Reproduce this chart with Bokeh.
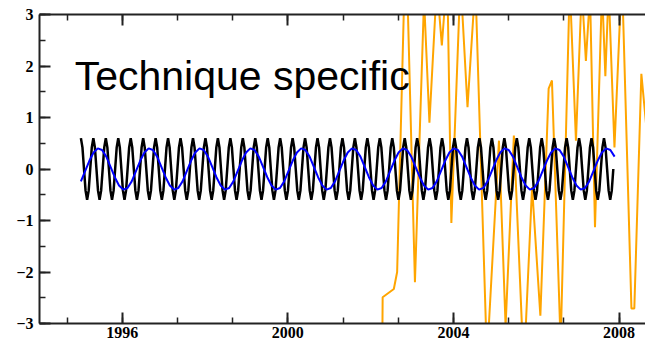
from bokeh.plotting import figure
from bokeh.models import Range1d, LinearAxis, SingleIntervalTicker, Label, CustomJSTickFormatter
from bokeh.embed import file_html
from bokeh.resources import INLINE

# ---------------- data ----------------
# black series: fast oscillation on a regular time grid (years)
black_start = 1995.0
black_step = 0.03761
black_y = [
    0.6, 0.42, 0.0, -0.42, -0.6, -0.42, 0.0, 0.42,
    0.6, 0.42, 0.0, -0.42, -0.6, -0.42, 0.0, 0.42,
    0.6, 0.42, 0.0, -0.42, -0.6, -0.42, 0.0, 0.42,
    0.6, 0.42, 0.0, -0.42, -0.6, -0.42, 0.0, 0.42,
    0.6, 0.42, 0.0, -0.42, -0.6, -0.42, 0.0, 0.42,
    0.6, 0.42, 0.0, -0.42, -0.6, -0.42, 0.0, 0.42,
    0.6, 0.42, 0.0, -0.42, -0.6, -0.42, 0.0, 0.42,
    0.6, 0.42, 0.0, -0.42, -0.6, -0.42, 0.0, 0.42,
    0.6, 0.42, 0.0, -0.42, -0.6, -0.42, 0.0, 0.42,
    0.6, 0.42, 0.0, -0.42, -0.6, -0.42, 0.0, 0.42,
    0.6, 0.42, 0.0, -0.42, -0.6, -0.42, 0.0, 0.42,
    0.6, 0.42, 0.0, -0.42, -0.6, -0.42, 0.0, 0.42,
    0.6, 0.42, 0.0, -0.42, -0.6, -0.42, 0.0, 0.42,
    0.6, 0.42, 0.0, -0.42, -0.6, -0.42, 0.0, 0.42,
    0.6, 0.42, 0.0, -0.42, -0.6, -0.42, 0.0, 0.42,
    0.6, 0.42, 0.0, -0.42, -0.6, -0.42, 0.0, 0.42,
    0.6, 0.42, 0.0, -0.42, -0.6, -0.42, 0.0, 0.42,
    0.6, 0.42, 0.0, -0.42, -0.6, -0.42, 0.0, 0.42,
    0.6, 0.42, 0.0, -0.42, -0.6, -0.42, 0.0, 0.42,
    0.6, 0.42, 0.0, -0.42, -0.6, -0.42, 0.0, 0.42,
    0.6, 0.42, 0.0, -0.42, -0.6, -0.42, 0.0, 0.42,
    0.6, 0.42, 0.0, -0.42, -0.6, -0.42, 0.0, 0.42,
    0.6, 0.42, 0.0, -0.42, -0.6, -0.42, 0.0, 0.42,
    0.6, 0.42, 0.0, -0.42, -0.6, -0.42, 0.0, 0.42,
    0.6, 0.42, 0.0, -0.42, -0.6, -0.42, 0.0, 0.42,
    0.6, 0.42, 0.0, -0.42, -0.6, -0.42, 0.0, 0.42,
    0.6, 0.42, 0.0, -0.42, -0.6, -0.42, 0.0, 0.42,
    0.6, 0.42, 0.0, -0.42, -0.6, -0.42, 0.0, 0.42,
    0.6, 0.42, 0.0, -0.42, -0.6, -0.42, 0.0, 0.42,
    0.6, 0.42, 0.0, -0.42, -0.6, -0.42, 0.0, 0.42,
    0.6, 0.42, 0.0, -0.42, -0.6, -0.42, 0.0, 0.42,
    0.6, 0.42, 0.0, -0.42, -0.6, -0.42, 0.0, 0.42,
    0.6, 0.42, 0.0, -0.42, -0.6, -0.42, 0.0, 0.42,
    0.6, 0.42, 0.0, -0.42, -0.6, -0.42, 0.0, 0.42,
    0.6, 0.42, 0.0, -0.42, -0.6, -0.42, 0.0, 0.42,
    0.6, 0.42, 0.0, -0.42, -0.6, -0.42, 0.0, 0.42,
    0.6, 0.42, 0.0, -0.42, -0.6, -0.42, 0.0, 0.42,
    0.6, 0.42, 0.0, -0.42, -0.6, -0.42, 0.0, 0.42,
    0.6, 0.42, 0.0, -0.42, -0.6, -0.42, 0.0, 0.42,
    0.6, 0.42, 0.0, -0.42, -0.6, -0.42, 0.0, 0.42,
    0.6, 0.42, 0.0, -0.42, -0.6, -0.42, 0.0, 0.42,
    0.6, 0.42, 0.0, -0.42, -0.6, -0.42, 0.0, 0.42,
    0.6, 0.42, 0.0, -0.42, -0.6, -0.42, 0.0,
]

# blue series: slower oscillation on a regular time grid (years)
blue_start = 1995.0
blue_step = 0.10233
blue_y = [
    -0.24, -0.04, 0.16, 0.32, 0.40, 0.37, 0.24, 0.04, -0.16, -0.32, -0.40, -0.37,
    -0.24, -0.04, 0.16, 0.32, 0.40, 0.37, 0.24, 0.04, -0.16, -0.32, -0.40, -0.37,
    -0.24, -0.04, 0.16, 0.32, 0.40, 0.37, 0.24, 0.04, -0.16, -0.32, -0.40, -0.37,
    -0.24, -0.04, 0.16, 0.32, 0.40, 0.37, 0.24, 0.04, -0.16, -0.32, -0.40, -0.37,
    -0.24, -0.04, 0.16, 0.32, 0.40, 0.37, 0.24, 0.04, -0.16, -0.32, -0.40, -0.37,
    -0.24, -0.04, 0.16, 0.32, 0.40, 0.37, 0.24, 0.04, -0.16, -0.32, -0.40, -0.37,
    -0.24, -0.04, 0.16, 0.32, 0.40, 0.37, 0.24, 0.04, -0.16, -0.32, -0.40, -0.37,
    -0.24, -0.04, 0.16, 0.32, 0.40, 0.37, 0.24, 0.04, -0.16, -0.32, -0.40, -0.37,
    -0.24, -0.04, 0.16, 0.32, 0.40, 0.37, 0.24, 0.04, -0.16, -0.32, -0.40, -0.37,
    -0.24, -0.04, 0.16, 0.32, 0.40, 0.37, 0.24, 0.04, -0.16, -0.32, -0.40, -0.37,
    -0.24, -0.04, 0.16, 0.32, 0.40, 0.37, 0.24,
]

# orange series: vertices (year, value); values beyond +-3 are clipped by the axes
orange_x = [2002.28, 2002.29, 2002.56, 2002.64, 2002.85, 2003.07, 2003.29, 2003.42,
            2003.60, 2003.72, 2003.85, 2003.95, 2004.17, 2004.34, 2004.53, 2004.81,
            2005.10, 2005.26, 2005.46, 2005.70, 2005.90, 2006.10, 2006.30, 2006.38,
            2006.59, 2006.81, 2006.96, 2007.10, 2007.20, 2007.30, 2007.42, 2007.59,
            2007.67, 2007.75, 2007.89, 2008.07, 2008.30, 2008.37, 2008.54, 2008.72]
orange_y = [-3.6, -2.49, -2.33, -2.0, 4.6, -2.2, 3.3, 0.9,
            3.6, 2.4, 3.8, -1.05, 3.7, 1.2, 3.6, -3.7,
            0.55, -3.05, 0.65, -3.9, -0.35, -2.85, 1.56, 1.72,
            -3.4, 3.6, 0.55, 3.5, 2.1, 3.4, -1.13, 3.5,
            1.8, 3.5, 0.42, 3.8, -2.71, -2.71, 1.85, 0.3]

x_start, x_end = 1994.0, 2008.64
y_start, y_end = -3.0, 3.0
x_tick_interval = 4
y_tick_interval = 1
annotation = "Technique specific"
annot_x, annot_y = 1994.85, 1.81

black_x = [black_start + i * black_step for i in range(len(black_y))]
blue_x = [blue_start + i * blue_step for i in range(len(blue_y))]

# ---------------- figure ----------------
p = figure(width=645, height=345, output_backend="svg", toolbar_location=None,
           x_range=Range1d(x_start, x_end), y_range=Range1d(y_start, y_end),
           x_axis_location=None, y_axis_location=None)
p.min_border_left = 39
p.min_border_right = 0
p.min_border_top = 14
p.min_border_bottom = 22
p.outline_line_color = None
p.xgrid.visible = False
p.ygrid.visible = False
p.background_fill_color = "white"
p.border_fill_color = "white"

axis_color = "#222222"
label_font = "Liberation Serif"


def style_axis(ax):
    ax.axis_line_color = axis_color
    ax.axis_line_width = 2
    ax.major_tick_line_color = axis_color
    ax.major_tick_line_width = 2
    ax.minor_tick_line_color = axis_color
    ax.minor_tick_line_width = 1.5
    ax.major_tick_in = 11
    ax.major_tick_out = 0
    ax.minor_tick_in = 6
    ax.minor_tick_out = 0
    ax.major_label_text_font = label_font
    ax.major_label_text_font_style = "bold"
    ax.major_label_text_font_size = "16px"
    ax.major_label_text_color = "black"


xticker = SingleIntervalTicker(interval=x_tick_interval, num_minor_ticks=3)
yticker = SingleIntervalTicker(interval=y_tick_interval, num_minor_ticks=2)

bottom = LinearAxis(ticker=xticker)
style_axis(bottom)
bottom.major_label_standoff = 3
p.add_layout(bottom, "below")

# top frame line with inward ticks, no labels
top = LinearAxis(ticker=xticker, formatter=CustomJSTickFormatter(code="return ''"))
style_axis(top)
top.major_label_standoff = 0
p.add_layout(top, "above")

left = LinearAxis(ticker=yticker)
style_axis(left)
left.major_label_standoff = 6
p.add_layout(left, "left")

# ---------------- series ----------------
p.line(orange_x, orange_y, line_color="#FFA500", line_width=2)
p.line(black_x, black_y, line_color="black", line_width=2.5)
p.line(blue_x, blue_y, line_color="#0000FF", line_width=2)

p.add_layout(Label(x=annot_x, y=annot_y, text=annotation,
                   text_font="Liberation Sans", text_font_size="41px",
                   text_color="black", text_baseline="alphabetic"))

open("out.html", "w").write(file_html(p, INLINE))
